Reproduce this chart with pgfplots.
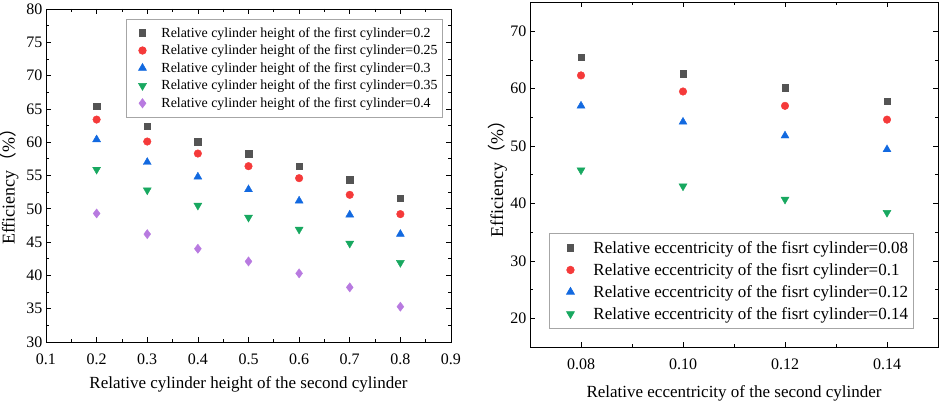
\documentclass[border=0pt]{standalone}
\usepackage{fontspec}
\setmainfont{Liberation Serif}
\newfontfamily\cjk{Noto Sans CJK SC}
\usepackage{pgfplots}
\pgfplotsset{compat=1.18}
\definecolor{cA}{HTML}{545454}
\definecolor{cB}{HTML}{F53A3A}
\definecolor{cC}{HTML}{1269E0}
\definecolor{cD}{HTML}{18A860}
\definecolor{cE}{HTML}{B87AE0}
\pgfplotsset{
  common/.style={
    scale only axis,
    anchor=south west,
    axis line style={line width=0.9pt},
    tick style={line width=0.7pt, black},
    tick align=inside,
    major tick length=5pt,
    minor tick length=3pt,
    xtick pos=both, ytick pos=both,
    /pgf/number format/assume math mode=true,
    tick label style={font=\fontsize{16}{16}\selectfont},
    xticklabel style={yshift=-8pt},
    label style={font=\fontsize{17}{17}\selectfont},
    ylabel style={font=\fontsize{18}{18}\selectfont},
    legend cell align=left,
  },
  sA/.style={only marks, mark=square*, mark size=3.3pt, color=cA},
  sB/.style={only marks, mark=*, mark size=3.8pt, color=cB},
  sC/.style={only marks, mark=triangle*, mark size=4.6pt, color=cC},
  sD/.style={only marks, mark=triangle*, mark options={rotate=180}, mark size=4.6pt, color=cD},
  sE/.style={only marks, mark=diamond*, mark size=4.6pt, color=cE},
}
\begin{document}
\begin{tikzpicture}
\useasboundingbox (0pt,0pt) rectangle (941pt,403pt);
\begin{axis}[common,
  at={(46pt,61pt)}, width=405pt, height=333pt,
  xmin=0.1, xmax=0.9, ymin=30, ymax=80,
  xtick={0.1,0.2,...,0.9}, ytick={30,35,...,80},
  minor x tick num=1, minor y tick num=1,
  xticklabel style={/pgf/number format/.cd, fixed, fixed zerofill, precision=1},
  xlabel={Relative cylinder height of the second cylinder},
  ylabel={Efficiency{\cjk （}\%{\cjk ）}},
  xlabel style={at={(axis description cs:0.5,-0.128)}, anchor=center},
  ylabel style={at={(axis description cs:-0.092,0.48)}, anchor=center},
  legend image code/.code={\path[draw=none,fill=none] (0pt,0pt) rectangle (30pt,0pt); \draw[#1] plot coordinates {(13pt,0pt)};},
  legend style={at={(rel axis cs:0.980,0.970)}, anchor=north east,
    draw=gray!70, line width=0.6pt, fill=white,
    font=\fontsize{13.9}{13.9}\selectfont, row sep=2.3pt, inner xsep=3pt, inner ysep=6pt},
]
\addplot[sA] coordinates {(0.2,65.4) (0.3,62.4) (0.4,60.1) (0.5,58.3) (0.6,56.4) (0.7,54.4) (0.8,51.6)};
\addlegendentry{Relative cylinder height of the first cylinder=0.2}
\addplot[sB] coordinates {(0.2,63.4) (0.3,60.1) (0.4,58.3) (0.5,56.4) (0.6,54.6) (0.7,52.1) (0.8,49.2)};
\addlegendentry{Relative cylinder height of the first cylinder=0.25}
\addplot[sC] coordinates {(0.2,60.4) (0.3,57.0) (0.4,54.8) (0.5,52.9) (0.6,51.2) (0.7,49.1) (0.8,46.2)};
\addlegendentry{Relative cylinder height of the first cylinder=0.3}
\addplot[sD] coordinates {(0.2,55.9) (0.3,52.8) (0.4,50.5) (0.5,48.7) (0.6,46.9) (0.7,44.8) (0.8,41.9)};
\addlegendentry{Relative cylinder height of the first cylinder=0.35}
\addplot[sE] coordinates {(0.2,49.3) (0.3,46.2) (0.4,44.0) (0.5,42.1) (0.6,40.3) (0.7,38.2) (0.8,35.3)};
\addlegendentry{Relative cylinder height of the first cylinder=0.4}
\end{axis}
\begin{axis}[common,
  at={(530pt,56pt)}, width=408pt, height=344.5pt,
  xmin=0.07, xmax=0.15, ymin=15, ymax=75,
  xtick={0.08,0.10,0.12,0.14}, minor xtick={0.09,0.11,0.13},
  ytick={20,30,...,70}, minor ytick={25,35,...,65},
  xticklabel style={/pgf/number format/.cd, fixed, fixed zerofill, precision=2},
  xlabel={Relative eccentricity of the second cylinder},
  ylabel={Efficiency{\cjk （}\%{\cjk ）}},
  xlabel style={at={(axis description cs:0.5,-0.135)}, anchor=center},
  ylabel style={at={(axis description cs:-0.08,0.5)}, anchor=center},
  legend image code/.code={\path[draw=none,fill=none] (0pt,0pt) rectangle (39pt,0pt); \draw[#1] plot coordinates {(18pt,0pt)};},
  legend style={at={(rel axis cs:0.047,0.331)}, anchor=north west,
    draw=gray!70, line width=0.6pt, fill=white,
    font=\fontsize{17}{17}\selectfont, row sep=4.5pt, inner xsep=3pt, inner ysep=6pt},
]
\addplot[sA] coordinates {(0.08,65.5) (0.10,62.6) (0.12,60.15) (0.14,57.8)};
\addlegendentry{Relative eccentricity of the fisrt cylinder=0.08}
\addplot[sB] coordinates {(0.08,62.3) (0.10,59.5) (0.12,57.0) (0.14,54.6)};
\addlegendentry{Relative eccentricity of the fisrt cylinder=0.1}
\addplot[sC] coordinates {(0.08,57.0) (0.10,54.2) (0.12,51.8) (0.14,49.4)};
\addlegendentry{Relative eccentricity of the fisrt cylinder=0.12}
\addplot[sD] coordinates {(0.08,45.8) (0.10,43.0) (0.12,40.7) (0.14,38.4)};
\addlegendentry{Relative eccentricity of the fisrt cylinder=0.14}
\end{axis}
\end{tikzpicture}
\end{document}
